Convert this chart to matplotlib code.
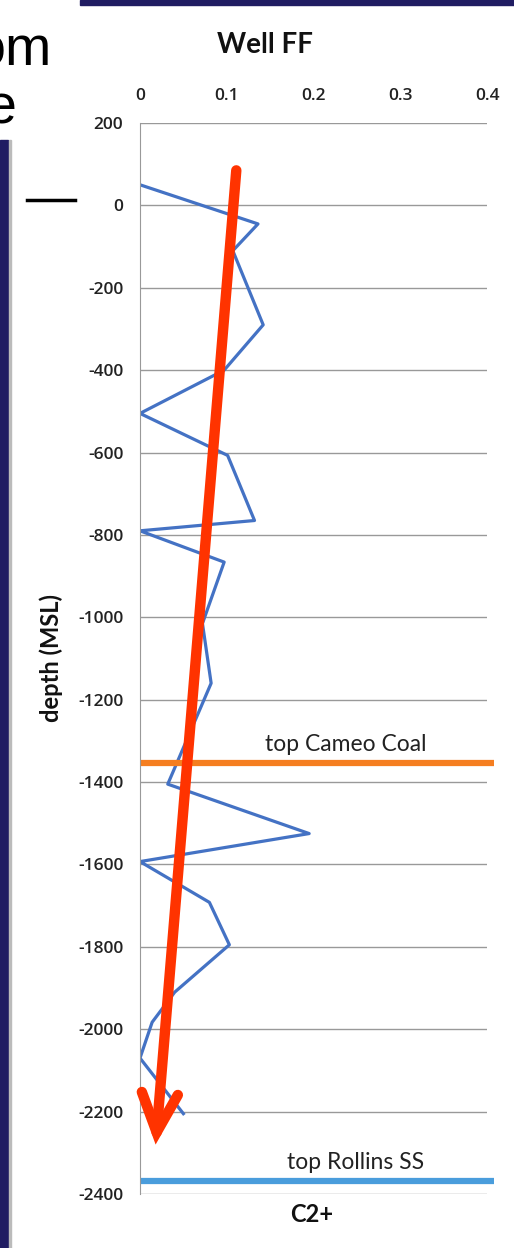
import matplotlib
matplotlib.use("Agg")
import matplotlib.pyplot as plt
from matplotlib.patches import Rectangle

plt.rcParams["axes.unicode_minus"] = False

# Well FF data: C2+ value vs depth (MSL)
c2_values = [0, 0.136, 0.107, 0.142, 0.097, 0, 0.101, 0.132, 0, 0.097, 0.072,
             0.082, 0.032, 0.195, 0, 0.080, 0.103, 0.040, 0.014, 0, 0.050]
depths = [50, -45, -110, -290, -400, -505, -607, -765, -790, -866, -1015,
          -1160, -1405, -1525, -1593, -1692, -1795, -1910, -1983, -2070, -2205]

# formation tops
top_names = ["top Cameo Coal", "top Rollins SS"]
top_depths = [-1354, -2369]
top_colors = ["#f57e20", "#4a9ddc"]

x_ticks = [0, 0.1, 0.2, 0.3, 0.4]
y_ticks = list(range(-2400, 201, 200))

# red trend arrow (data coords)
arrow_start = (0.111, 85)
arrow_end = (0.018, -2280)

W, H = 514, 1248
fig = plt.figure(figsize=(W / 100, H / 100), dpi=100)
fig.patch.set_facecolor("white")

# slide decorations
navy = "#201c62"
fig.patches.append(Rectangle((0, 0), 8 / W, 1 - 140 / H, transform=fig.transFigure,
                             color=navy, zorder=0))
fig.patches.append(Rectangle((9 / W, 0), 2 / W, 1 - 140 / H, transform=fig.transFigure,
                             color="#bbbbbb", zorder=0))
fig.patches.append(Rectangle((80 / W, 1 - 5 / H), 1 - 80 / W, 5 / H, transform=fig.transFigure,
                             color=navy, zorder=0))
fig.text(52 / W, 1 - 65 / H, "om", fontsize=40, family="Liberation Sans", ha="right", va="baseline")
fig.text(17 / W, 1 - 123 / H, "e", fontsize=40, family="Liberation Sans", ha="right", va="baseline")
fig.lines.append(plt.Line2D([27 / W, 75 / W], [1 - 200 / H, 1 - 200 / H], transform=fig.transFigure,
                            color="black", lw=2.5))

ax = fig.add_axes([140 / W, 1 - 1194 / H, (487 - 140) / W, (1194 - 123) / H])
ax.set_xlim(0, 0.4)
ax.set_ylim(-2400, 200)
ax.set_xticks(x_ticks)
ax.set_xticklabels(["0", "0.1", "0.2", "0.3", "0.4"])
ax.set_yticks(y_ticks)
ax.xaxis.tick_top()
ax.tick_params(axis="both", length=0, labelsize=12.5, labelcolor="#222222")
ax.tick_params(axis="x", pad=14)
ax.tick_params(axis="y", pad=12)
for lab in ax.get_xticklabels() + ax.get_yticklabels():
    lab.set_family("Open Sans")
    lab.set_fontweight("semibold")
for s in ["top", "right", "bottom"]:
    ax.spines[s].set_visible(False)
ax.spines["left"].set_color("#999999")
ax.grid(axis="y", color="#999999", lw=1)
ax.set_axisbelow(True)

ax.plot(c2_values, depths, color="#4472c4", lw=2.3)

for name, d, c in zip(top_names, top_depths, top_colors):
    ax.plot([0, 0.408], [d, d], color=c, lw=4.5, clip_on=False, solid_capstyle="butt")

ax.text(0.1437, top_depths[0] + 20, top_names[0], fontsize=16.5, family="Lato",
        color="#222222", va="bottom")
ax.text(0.169, top_depths[1] + 20, top_names[1], fontsize=16.5, family="Lato",
        color="#222222", va="bottom")

ax.annotate("", xy=arrow_end, xytext=arrow_start,
            arrowprops=dict(arrowstyle="->,head_length=2.8,head_width=1.3",
                            color="#ff3300", lw=7.5, shrinkA=0, shrinkB=0,
                            capstyle="round", joinstyle="miter"),
            annotation_clip=False)

fig.text(265 / W, 1 - 45 / H, "Well FF", fontsize=20, fontweight="bold", family="Lato",
         ha="center", va="center", color="#111111")
fig.text(51 / W, 1 - 658 / H, "depth (MSL)", fontsize=17, fontweight="bold", family="Lato",
         rotation=90, ha="center", va="center", color="#111111")
fig.text(312 / W, 1 - 1215 / H, "C2+", fontsize=17, fontweight="bold", family="Lato",
         ha="center", va="center", color="#111111")

fig.savefig("out.png", dpi=100)
